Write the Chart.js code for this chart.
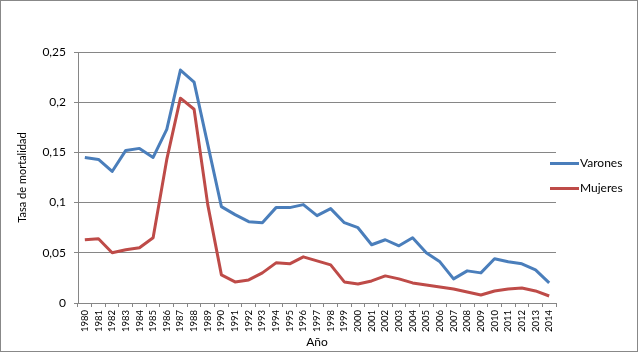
<!DOCTYPE html>
<html>
<head>
<meta charset="utf-8">
<script src="https://cdn.jsdelivr.net/npm/chart.js@4.4.1/dist/chart.umd.min.js"></script>
<style>
html,body{margin:0;padding:0;background:#fff;}
canvas{display:block;}
</style>
</head>
<body>
<canvas id="c" width="638" height="352"></canvas>
<script>
const categories = ['1980','1981','1982','1983','1984','1985','1986','1987','1988','1989','1990','1991','1992','1993','1994','1995','1996','1997','1998','1999','2000','2001','2002','2003','2004','2005','2006','2007','2008','2009','2010','2011','2012','2013','2014'];
const varones = [0.145,0.143,0.131,0.152,0.154,0.145,0.173,0.232,0.220,0.158,0.096,0.088,0.081,0.080,0.095,0.095,0.098,0.087,0.094,0.080,0.075,0.058,0.063,0.057,0.065,0.050,0.041,0.024,0.032,0.030,0.044,0.041,0.039,0.033,0.020];
const mujeres = [0.063,0.064,0.050,0.053,0.055,0.065,0.143,0.204,0.193,0.098,0.028,0.021,0.023,0.030,0.040,0.039,0.046,0.042,0.038,0.021,0.019,0.022,0.027,0.024,0.020,0.018,0.016,0.014,0.011,0.008,0.012,0.014,0.015,0.012,0.007];
const seriesNames = ['Varones','Mujeres'];
const yTickValues = [0,0.05,0.1,0.15,0.2,0.25];
const yTickLabels = ['0','0,05','0,1','0,15','0,2','0,25'];
const xTitle = 'Año';
const yTitle = 'Tasa de mortalidad';

const FONT = 'Lato, "Open Sans", sans-serif';
const GRID = '#868686';
const COLORS = ['#4A7EBB','#BE4B48'];

const frame = {
  id:'frame',
  beforeDraw(chart){
    const ctx = chart.ctx;
    ctx.save();
    ctx.fillStyle = '#fff';
    ctx.fillRect(0,0,chart.width,chart.height);
    ctx.strokeStyle = '#888';
    ctx.lineWidth = 1;
    ctx.strokeRect(0.5,0.5,chart.width-1,chart.height-1);
    ctx.restore();
  }
};

const legendPlugin = {
  id:'customLegend',
  afterDraw(chart){
    const ctx = chart.ctx;
    ctx.save();
    ctx.font = '12px ' + FONT;
    ctx.textBaseline = 'middle';
    ctx.textAlign = 'left';
    chart.data.datasets.forEach((ds,i)=>{
      const y = 163.5 + i*25;
      ctx.strokeStyle = ds.borderColor;
      ctx.lineWidth = 3;
      ctx.beginPath();
      ctx.moveTo(550,y);
      ctx.lineTo(579,y);
      ctx.stroke();
      ctx.fillStyle = '#000';
      ctx.fillText(ds.label,580,y);
    });
    ctx.restore();
  }
};

new Chart(document.getElementById('c'),{
  type:'line',
  data:{
    labels:categories,
    datasets:[
      {label:seriesNames[0],data:varones,borderColor:COLORS[0],backgroundColor:COLORS[0],borderWidth:3,pointRadius:0,tension:0,borderJoinStyle:'round'},
      {label:seriesNames[1],data:mujeres,borderColor:COLORS[1],backgroundColor:COLORS[1],borderWidth:3,pointRadius:0,tension:0,borderJoinStyle:'round'}
    ]
  },
  options:{
    responsive:false,
    animation:false,
    devicePixelRatio:1,
    layout:{padding:{top:52,right:82,left:0,bottom:0}},
    plugins:{legend:{display:false},tooltip:{enabled:false}},
    scales:{
      x:{
        type:'category',
        offset:true,
        grid:{offset:true,drawOnChartArea:false,drawTicks:true,tickLength:4,color:GRID},
        border:{color:GRID,width:1},
        ticks:{autoSkip:false,minRotation:90,maxRotation:90,padding:3,color:'#000',font:{family:FONT,size:9.5}},
        title:{display:true,text:xTitle,color:'#000',font:{family:FONT,size:12},padding:{top:3,bottom:3}},
        afterFit(s){s.height=49;}
      },
      y:{
        min:0,max:0.25,
        afterBuildTicks(s){s.ticks = yTickValues.map(v=>({value:v}));},
        grid:{color:GRID,drawTicks:true,tickLength:4},
        border:{color:GRID,width:1},
        ticks:{padding:8,color:'#000',font:{family:FONT,size:12},
          callback(v){const i=yTickValues.findIndex(t=>Math.abs(t-v)<1e-9);return i>=0?yTickLabels[i]:'';}},
        title:{display:true,text:yTitle,color:'#000',font:{family:FONT,size:11},padding:{top:16,bottom:4}},
        afterFit(s){s.width=78;}
      }
    }
  },
  plugins:[frame,legendPlugin]
});
</script>
</body>
</html>
